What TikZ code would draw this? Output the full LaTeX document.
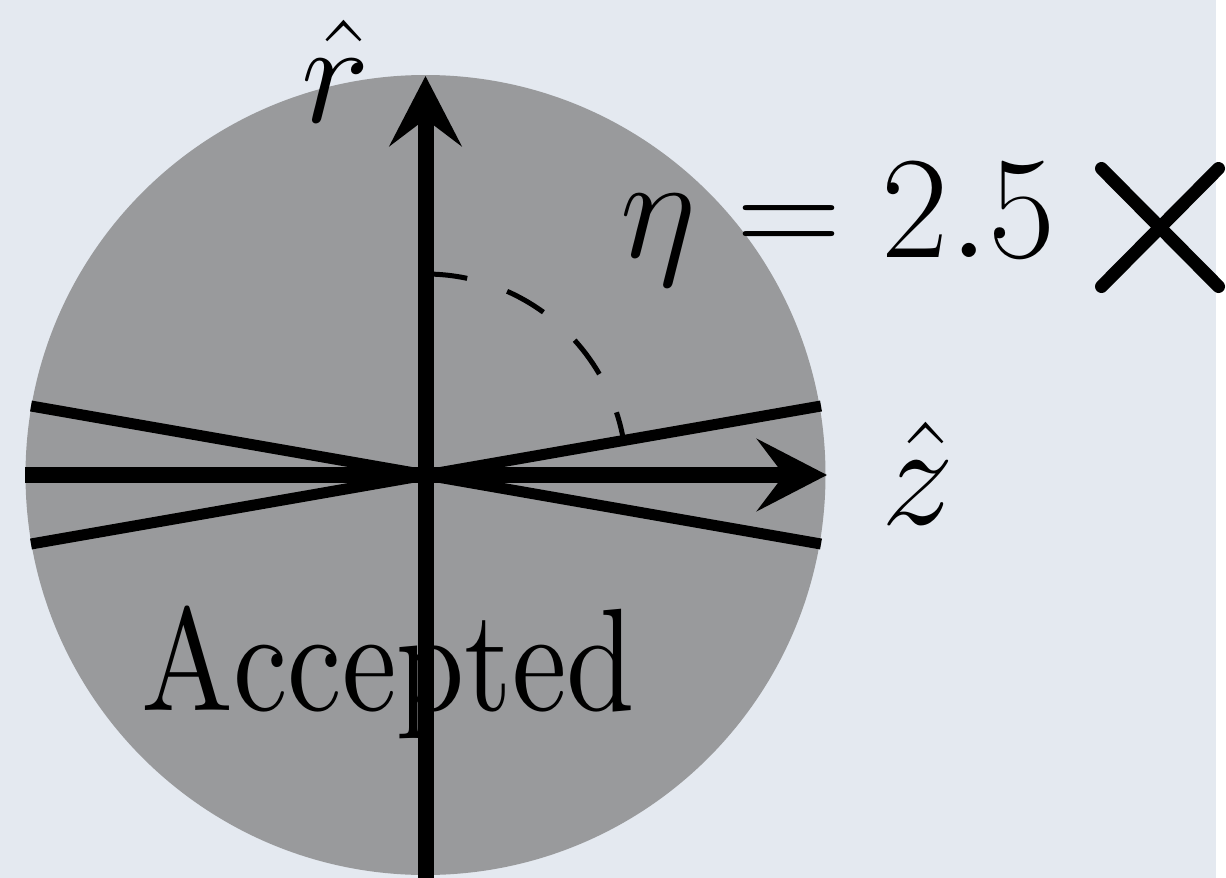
\documentclass[tikz,border=0pt]{standalone}
\usepackage{fix-cm}
\usepackage{graphicx}
\usepackage{tikz}
\usetikzlibrary{arrows.meta,positioning,calc}
\definecolor{bgblue}{RGB}{228,233,240}
\definecolor{diskgray}{RGB}{153,154,156}
\font\accfont=cmr10 at 73pt

\begin{document}
\begin{tikzpicture}[
    x=0.5pt, y=-0.5pt,
    axis/.style={line width=8pt,
                 -{Stealth[length=35pt, width=36pt, inset=13.5pt]}},
    cut/.style={line width=5.5pt},
    etaarc/.style={line width=2.5pt, dash pattern=on 21pt off 21pt},
    crossmark/.style={line width=6.5pt, line cap=round},
    lbl/.style={inner sep=0pt, anchor=base,
                font=\fontsize{73}{88}\selectfont},
  ]
  \useasboundingbox (0,0) rectangle (1226,878);
  \fill[bgblue] (0,0) rectangle (1216,878);

  % Accepted region
  \coordinate (o) at (425.5,475);
  \fill[diskgray] (o) circle[radius=400];
  \node[lbl] (acc) at (388.5,710) {\scalebox{0.84}[1]{\accfont Accepted}};

  % Cut lines at eta = 2.5
  \coordinate (cutul) at (31,406);
  \coordinate (cutur) at (821,406);
  \coordinate (cutll) at (31,544);
  \coordinate (cutlr) at (821,544);
  \draw[cut] (cutul) -- (cutlr);
  \draw[cut] (cutll) -- (cutur);

  % Axes
  \coordinate (zleft)  at (25,475);
  \coordinate (zright) at (827,475);
  \coordinate (rbot)   at (425.5,878);
  \coordinate (rtop)   at (425.5,76);
  \draw[axis] (zleft) -- (zright);
  \draw[axis] (rbot) -- (rtop);
  \node[lbl] (rhat) at (336,122) {$\hat{r}$};
  \node[lbl] (zhat) at (918,524) {$\hat{z}$};

  % Angle arc
  \draw[etaarc] ($(o)+(-90:201)$) arc[start angle=-90, end angle=-11, radius=201];

  % Label and marker
  \node[lbl] (eta) at (838,257) {$\eta = 2.5$};
  \coordinate (xmark) at (1160,227.5);
  \draw[crossmark] ($(xmark)+(-58.5,-59)$) -- ($(xmark)+(58.5,59)$);
  \draw[crossmark] ($(xmark)+(-58.5,59)$) -- ($(xmark)+(58.5,-59)$);
\end{tikzpicture}
\end{document}
